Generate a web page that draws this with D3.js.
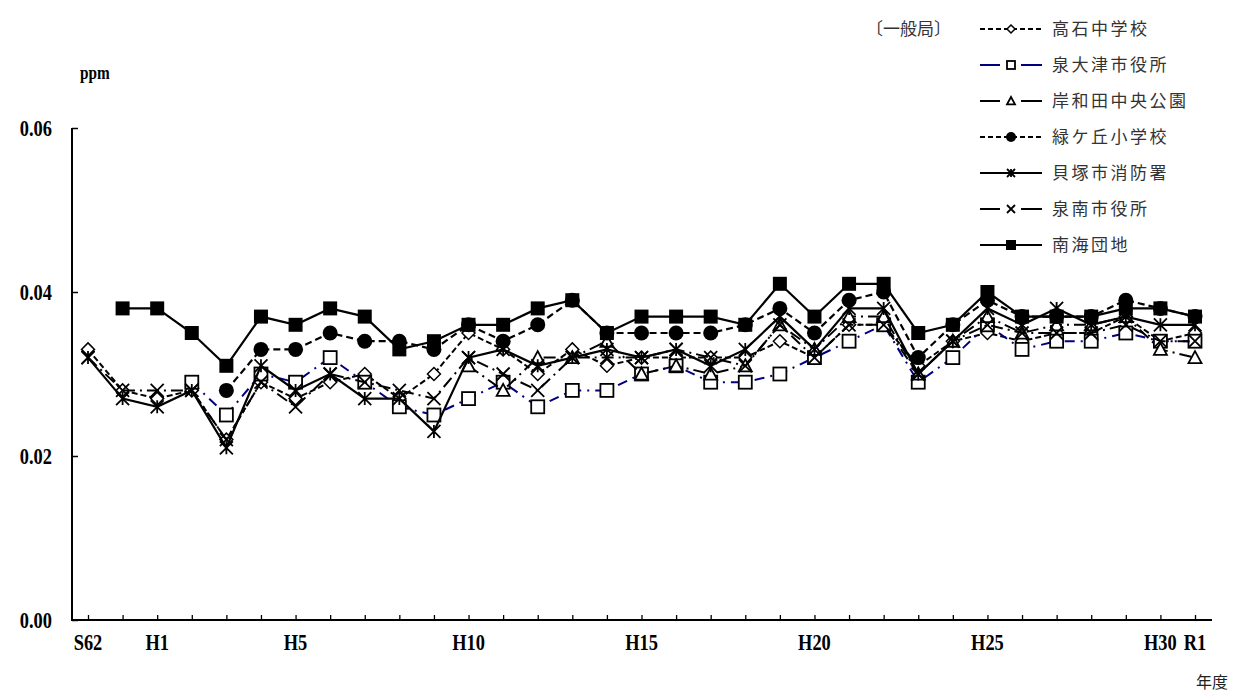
<!DOCTYPE html>
<html><head><meta charset="utf-8">
<script src="https://cdn.jsdelivr.net/npm/d3@7"></script>
<style>
body{margin:0;background:#fff;}
svg{display:block;}
</style></head>
<body>
<svg id="chart" width="1241" height="695"></svg>
<script>
const categories = ["S62","S63","H1","H2","H3","H4","H5","H6","H7","H8","H9","H10","H11","H12","H13","H14","H15","H16","H17","H18","H19","H20","H21","H22","H23","H24","H25","H26","H27","H28","H29","H30","R1"];
const tickLabels = ["S62","H1","H5","H10","H15","H20","H25","H30","R1"];
const yTicks = [0, 0.02, 0.04, 0.06];
const seriesNames = ["高石中学校","泉大津市役所","岸和田中央公園","緑ケ丘小学校","貝塚市消防署","泉南市役所","南海団地"];
const takaishi = [0.033,0.028,0.027,0.028,0.022,0.029,0.027,0.029,0.030,0.027,0.030,0.035,0.033,0.030,0.033,0.031,0.032,0.032,0.032,0.032,0.034,0.032,0.036,0.036,0.031,0.034,0.035,0.034,0.035,0.035,0.037,0.034,0.035];
const izumiotsu = [null,null,null,0.029,0.025,0.030,0.029,0.032,0.029,0.026,0.025,0.027,0.029,0.026,0.028,0.028,0.030,0.031,0.029,0.029,0.030,0.032,0.034,0.036,0.029,0.032,0.036,0.033,0.034,0.034,0.035,0.034,0.034];
const kishiwada = [null,null,null,null,null,null,null,null,null,null,null,0.031,0.028,0.032,0.032,0.034,0.030,0.031,0.030,0.031,0.036,0.033,0.037,0.037,0.030,0.034,0.037,0.035,0.036,0.036,0.037,0.033,0.032];
const midorigaoka = [null,null,null,null,0.028,0.033,0.033,0.035,0.034,0.034,0.033,0.036,0.034,0.036,0.039,0.035,0.035,0.035,0.035,0.036,0.038,0.035,0.039,0.040,0.032,0.036,0.039,0.037,0.037,0.037,0.039,0.038,0.037];
const kaizuka = [0.032,0.027,0.026,0.028,0.021,0.031,0.028,0.030,0.027,0.027,0.023,0.032,0.033,0.031,0.032,0.033,0.032,0.033,0.031,0.033,0.037,0.033,0.038,0.038,0.030,0.034,0.038,0.036,0.038,0.036,0.037,0.036,0.036];
const sennan = [0.032,0.028,0.028,0.028,0.022,0.029,0.026,0.030,0.029,0.028,0.027,0.032,0.030,0.028,0.032,0.032,0.032,0.033,0.032,0.031,0.036,0.032,0.036,0.036,0.030,0.034,0.036,0.035,0.035,0.035,0.036,0.034,0.034];
const nankai = [null,0.038,0.038,0.035,0.031,0.037,0.036,0.038,0.037,0.033,0.034,0.036,0.036,0.038,0.039,0.035,0.037,0.037,0.037,0.036,0.041,0.037,0.041,0.041,0.035,0.036,0.040,0.037,0.037,0.037,0.038,0.038,0.037];

const seriesValues = [takaishi, izumiotsu, kishiwada, midorigaoka, kaizuka, sennan, nankai];
const styles = [
  {color:"#000", dash:"6,3", width:2, marker:"diamond"},
  {color:"#000080", dash:"10,6,2,6", width:2, marker:"square"},
  {color:"#000", dash:"12,5,2,5", width:2, marker:"triangle"},
  {color:"#000", dash:"7,4", width:2.2, marker:"circle"},
  {color:"#000", dash:null, width:2.2, marker:"asterisk"},
  {color:"#000", dash:"12,5,2,5", width:2, marker:"x"},
  {color:"#000", dash:null, width:2.2, marker:"fsquare"}
];

const svg = d3.select("#chart");
const x = d3.scalePoint().domain(categories).range([88, 1195]);
const y = d3.scaleLinear().domain([0, 0.06]).range([620, 128]);
const axisLeftX = 72, axisRightX = 1212;
const numFont = "Liberation Serif, serif";

function drawMarker(g, type, cx, cy, s) {
  const h = s/2;
  if (type === "diamond") {
    g.append("path").attr("d", `M${cx},${cy-h}L${cx+h},${cy}L${cx},${cy+h}L${cx-h},${cy}Z`)
      .attr("fill","#fff").attr("stroke","#000").attr("stroke-width",1.5);
  } else if (type === "square") {
    g.append("rect").attr("x",cx-h).attr("y",cy-h).attr("width",s).attr("height",s)
      .attr("fill","#fff").attr("stroke","#000").attr("stroke-width",1.8);
  } else if (type === "triangle") {
    g.append("path").attr("d", `M${cx},${cy-h}L${cx+h},${cy+h*0.85}L${cx-h},${cy+h*0.85}Z`)
      .attr("fill","#fff").attr("stroke","#000").attr("stroke-width",1.8);
  } else if (type === "circle") {
    g.append("circle").attr("cx",cx).attr("cy",cy).attr("r",h).attr("fill","#000");
  } else if (type === "fsquare") {
    g.append("rect").attr("x",cx-h).attr("y",cy-h).attr("width",s).attr("height",s).attr("fill","#000");
  } else if (type === "x" || type === "asterisk") {
    g.append("path").attr("d", `M${cx-h},${cy-h}L${cx+h},${cy+h}M${cx+h},${cy-h}L${cx-h},${cy+h}` + (type==="asterisk" ? `M${cx},${cy-h}L${cx},${cy+h}` : ""))
      .attr("stroke","#000").attr("stroke-width",1.8).attr("fill","none");
  }
}

// axes
const axG = svg.append("g");
axG.append("line").attr("x1",axisLeftX).attr("x2",axisLeftX).attr("y1",y(0.06)).attr("y2",y(0)+1)
  .attr("stroke","#000").attr("stroke-width",2);
axG.append("line").attr("x1",axisLeftX).attr("x2",axisRightX).attr("y1",y(0)).attr("y2",y(0))
  .attr("stroke","#000").attr("stroke-width",2);

const yAxis = d3.axisRight(y).tickValues(yTicks).tickSize(6).tickFormat("");
svg.append("g").attr("transform",`translate(${axisLeftX},0)`).call(yAxis)
  .call(g=>g.select(".domain").remove())
  .call(g=>g.selectAll(".tick line").attr("stroke","#000").attr("stroke-width",1.5));
svg.append("g").selectAll("text").data(yTicks).join("text")
  .attr("transform",d=>`translate(52,${y(d)}) scale(0.8,1)`).attr("dy","0.35em").attr("text-anchor","end")
  .attr("font-family",numFont).attr("font-weight","bold").attr("font-size",23)
  .text(d=>d3.format(".2f")(d));

const xAxis = d3.axisTop(x).tickSize(5).tickFormat("");
svg.append("g").attr("transform",`translate(0,${y(0)})`).call(xAxis)
  .call(g=>g.select(".domain").remove())
  .call(g=>g.selectAll(".tick line").attr("stroke","#000").attr("stroke-width",1.3));
svg.append("g").selectAll("text").data(tickLabels).join("text")
  .attr("transform",d=>`translate(${x(d)},642) scale(0.8,1)`).attr("dy","0.35em").attr("text-anchor","middle")
  .attr("font-family",numFont).attr("font-weight","bold").attr("font-size",23)
  .text(d=>d);

svg.append("text").attr("transform","translate(80,79) scale(0.85,1)").attr("font-family",numFont)
  .attr("font-weight","bold").attr("font-size",18).text("ppm");
svg.append("text").attr("x",1196).attr("y",688).attr("font-family","Noto Sans CJK JP, sans-serif")
  .attr("font-size",16).attr("fill","#222").text("年度");

// series
seriesValues.forEach((vals, si) => {
  const st = styles[si];
  const pts = vals.map((v,i)=>({c:categories[i], v})).filter(d=>d.v!=null);
  const line = d3.line().x(d=>x(d.c)).y(d=>y(d.v));
  const g = svg.append("g");
  g.append("path").attr("d", line(pts)).attr("fill","none").attr("stroke",st.color)
    .attr("stroke-width",st.width).attr("stroke-dasharray",st.dash);
  pts.forEach(d => drawMarker(g, st.marker, x(d.c), y(d.v), st.marker==="circle"?15:(st.marker==="fsquare"?14:13)));
});

// legend
const lg = svg.append("g");
lg.append("text").attr("x",866).attr("y",29).attr("dy","0.35em")
  .attr("font-family","Noto Sans CJK JP, sans-serif").attr("font-size",17).attr("fill","#333").text("〔一般局〕");
seriesNames.forEach((name, si) => {
  const st = styles[si];
  const cy = 29 + si*36;
  const gg = lg.append("g");
  const solidSplit = (si===1 || si===2 || si===5);
  if (solidSplit) {
    gg.append("line").attr("x1",980).attr("x2",1000).attr("y1",cy).attr("y2",cy).attr("stroke",st.color).attr("stroke-width",2);
    gg.append("line").attr("x1",1021).attr("x2",1042).attr("y1",cy).attr("y2",cy).attr("stroke",st.color).attr("stroke-width",2);
  } else {
    gg.append("line").attr("x1",980).attr("x2",1042).attr("y1",cy).attr("y2",cy).attr("stroke",st.color)
      .attr("stroke-width",2).attr("stroke-dasharray", st.dash ? "5,3" : null);
  }
  drawMarker(gg, st.marker, 1011, cy, st.marker==="circle"?10:(st.marker==="fsquare"?10:8));
  gg.append("text").attr("x",1052).attr("y",cy).attr("dy","0.35em")
    .attr("font-family","Noto Sans CJK JP, sans-serif").attr("font-size",17).attr("letter-spacing","2.5px")
    .attr("fill","#333").text(name);
});
</script>
</body></html>
